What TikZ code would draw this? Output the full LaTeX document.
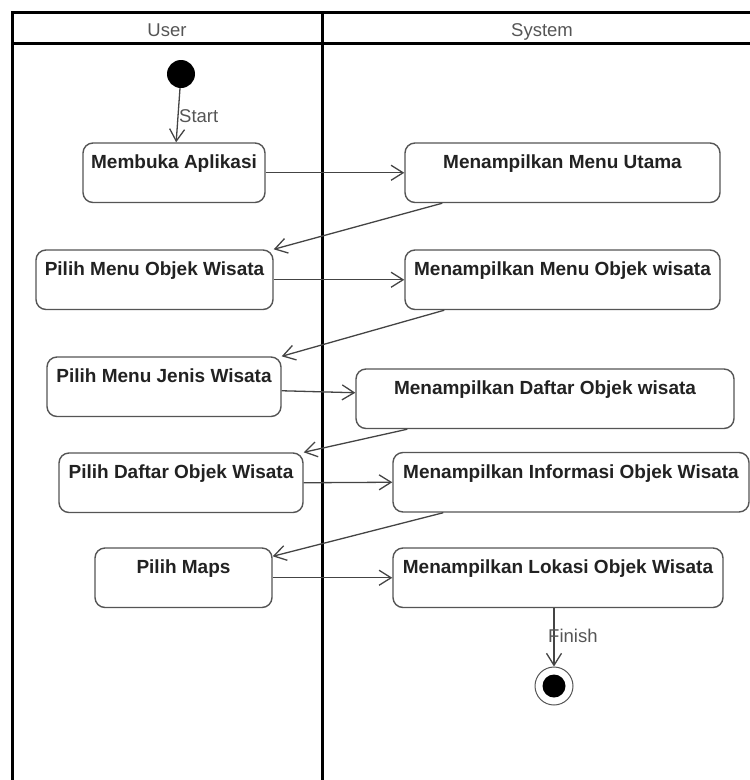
\documentclass[tikz,border=0pt]{standalone}
\usepackage{fontspec}
\setmainfont{Liberation Sans}
\usetikzlibrary{arrows.meta}

\definecolor{boxline}{HTML}{555555}
\definecolor{boxtext}{HTML}{222222}
\definecolor{arrowline}{HTML}{444444}
\definecolor{headtext}{HTML}{555555}

\begin{document}
\begin{tikzpicture}[x=1pt,y=-1pt,
  act/.style={draw=boxline, line width=1.4pt, rounded corners=10pt, fill=white,
    text=boxtext, font=\fontsize{19}{22}\selectfont\bfseries,
    inner xsep=0pt, inner ysep=12pt, text height=13.5pt, text depth=22pt,
    minimum width=#1},
  flow/.style={draw=arrowline, line width=1.3pt,
    -{Straight Barb[length=12pt,width=15pt]}},
  lane/.style={line width=3pt, draw=black},
  lbl/.style={text=headtext, font=\fontsize{18.5}{22}\selectfont, inner sep=0pt},
  ]
\useasboundingbox (0,0) rectangle (750,780);

% swimlane frame
\draw[lane] (12,780) -- (12,12) -- (750,12);
\draw[lane] (12,43) -- (750,43);
\draw[lane] (322,12) -- (322,780);
\node[lbl, anchor=base] (userhd) at (167,36) {User};
\node[lbl, anchor=base] (syshd) at (542,36) {System};

% initial and final states
\node[circle, fill=black, minimum size=28pt, inner sep=0pt] (start) at (181,74) {};
\node[circle, draw=boxline, line width=1pt, fill=white, minimum size=38pt, inner sep=0pt] (end) at (554,686) {};
\node[circle, fill=black, minimum size=23pt, inner sep=0pt] (enddot) at (end) {};

% activities
\node[act=182pt] (b1) at (174,172.75) {Membuka Aplikasi};
\node[act=315pt] (b2) at (562.5,172.75) {Menampilkan Menu Utama};
\node[act=237pt] (b3) at (154.5,279.75) {Pilih Menu Objek Wisata};
\node[act=315pt] (b4) at (562.5,279.75) {Menampilkan Menu Objek wisata};
\node[act=234pt] (b5) at (164,386.75) {Pilih Menu Jenis Wisata};
\node[act=378pt] (b6) at (545,398.75) {Menampilkan Daftar Objek wisata};
\node[act=244pt] (b7) at (181,482.75) {Pilih Daftar Objek Wisata};
\node[act=356pt] (b8) at (571,482.25) {Menampilkan Informasi Objek Wisata};
\node[act=177pt] (b9) at (183.5,577.75) {Pilih Maps};
\node[act=330pt] (b10) at (558,577.75) {Menampilkan Lokasi Objek Wisata};

% control flow
\draw[flow] (start) -- (b1);
\node[lbl, anchor=base west] (startlbl) at (179,122) {Start};

\draw[flow] (b1.east) -- (b2.west);
\draw[flow] ([xshift=38pt]b2.south west) -- (b3.north east);
\draw[flow] (b3.east) -- (b4.west);
\draw[flow] ([xshift=40pt]b4.south west) -- (b5.north east);
\draw[flow] ([yshift=-4pt]b5.east) -- ([yshift=6pt]b6.west);
\draw[flow] ([xshift=52pt]b6.south west) -- (b7.north east);
\draw[flow] (b7.east) -- (b8.west);
\draw[flow] ([xshift=51pt]b8.south west) -- ([yshift=-9pt]b9.north east);
\draw[flow] (b9.east) -- (b10.west);

\draw[flow] (b10.south -| end) -- (end);
\node[lbl, anchor=base west] (finlbl) at (548,642) {Finish};
\end{tikzpicture}
\end{document}
